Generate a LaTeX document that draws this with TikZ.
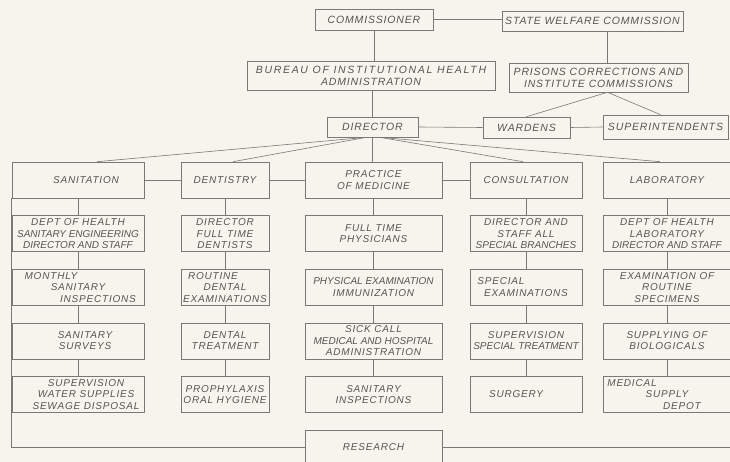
\documentclass[tikz,border=0pt]{standalone}
\usepackage{fontspec}
\newfontfamily\handfont[LetterSpace=8]{Liberation Sans}
\newfontfamily\handtight{Liberation Sans}
\newfontfamily\handwide[LetterSpace=16]{Liberation Sans}
\usetikzlibrary{positioning}
\definecolor{paper}{RGB}{246,244,236}
\definecolor{inkgray}{RGB}{120,120,118}
\definecolor{textgray}{RGB}{85,85,83}

\begin{document}
\begin{tikzpicture}[x=1pt, y=-1pt, color=inkgray, line width=0.6pt, node distance=17pt,
    box/.style={draw=inkgray, text=textgray, align=center, inner xsep=1pt, inner ysep=2pt,
      font=\handfont\itshape\fontsize{10}{11.5}\selectfont},
    head/.style={box, font=\handfont\itshape\fontsize{10.5}{12}\selectfont},
    sancol/.style={box, minimum width=132pt, minimum height=36pt},
    dentcol/.style={box, minimum width=88pt, minimum height=36pt},
    praccol/.style={box, minimum width=137pt, minimum height=36pt},
    conscol/.style={box, minimum width=112pt, minimum height=36pt},
    labcol/.style={box, minimum width=128pt, minimum height=36pt}]
  \useasboundingbox (0,0) rectangle (730,462);
  \fill[paper] (0,0) rectangle (730,462);

  % top of the chart
  \node[head, minimum width=118pt, minimum height=21pt] (comm) at (374,19.5) {COMMISSIONER};
  \node[head, minimum width=181pt, minimum height=20pt] (swc) at (592.5,21) {STATE WELFARE COMMISSION};
  \node[head, minimum width=248pt, minimum height=29pt] (bureau) at (371,76) {{\handwide BUREAU OF INSTITUTIONAL HEALTH}\\ADMINISTRATION};
  \node[head, minimum width=179pt, minimum height=29pt] (prisons) at (598.5,77.5) {PRISONS CORRECTIONS AND\\INSTITUTE COMMISSIONS};
  \node[head, minimum width=91pt, minimum height=20pt] (dir) at (372.5,127) {DIRECTOR};
  \node[head, minimum width=87pt, minimum height=21pt] (wardens) at (526.5,127.5) {WARDENS};
  \node[head, minimum width=125pt, minimum height=24pt] (supt) at (665.5,127) {SUPERINTENDENTS};

  % sanitation
  \node[sancol] (san1) at (78,180) {\hspace*{16pt}SANITATION};
  \node[sancol, below=of san1] (san2) {DEPT OF HEALTH\\{\handtight SANITARY ENGINEERING}\\{\handtight DIRECTOR AND STAFF}};
  \node[sancol, below=of san2] (san3) {MONTHLY\hspace*{54pt}\\SANITARY\hspace*{26pt}\\\hspace*{40pt}INSPECTIONS};
  \node[sancol, below=of san3] (san4) {\hspace*{14pt}SANITARY\\\hspace*{14pt}SURVEYS};
  \node[sancol, below=of san4] (san5) {\hspace*{16pt}SUPERVISION\\\hspace*{16pt}WATER SUPPLIES\\\hspace*{16pt}SEWAGE DISPOSAL};

  % dentistry
  \node[dentcol] (dent1) at (225,180) {DENTISTRY};
  \node[dentcol, below=of dent1] (dent2) {DIRECTOR\\FULL TIME\\DENTISTS};
  \node[dentcol, below=of dent2] (dent3) {ROUTINE\hspace*{24pt}\\DENTAL\\EXAMINATIONS};
  \node[dentcol, below=of dent3] (dent4) {DENTAL\\TREATMENT};
  \node[dentcol, below=of dent4] (dent5) {PROPHYLAXIS\\ORAL HYGIENE};

  % practice of medicine
  \node[praccol] (prac1) at (373.5,180) {PRACTICE\\OF MEDICINE};
  \node[praccol, below=of prac1] (prac2) {FULL TIME\\PHYSICIANS};
  \node[praccol, below=of prac2] (prac3) {{\handtight PHYSICAL EXAMINATION}\\IMMUNIZATION};
  \node[praccol, below=of prac3] (prac4) {SICK CALL\\{\handtight MEDICAL AND HOSPITAL}\\ADMINISTRATION};
  \node[praccol, below=of prac4] (prac5) {SANITARY\\INSPECTIONS};

  % consultation
  \node[conscol] (cons1) at (526,180) {CONSULTATION};
  \node[conscol, below=of cons1] (cons2) {DIRECTOR AND\\STAFF ALL\\{\handtight SPECIAL BRANCHES}};
  \node[conscol, below=of cons2] (cons3) {SPECIAL\hspace*{50pt}\\EXAMINATIONS};
  \node[conscol, below=of cons3] (cons4) {SUPERVISION\\{\handtight SPECIAL TREATMENT}};
  \node[conscol, below=of cons4] (cons5) {SURGERY\hspace*{20pt}};

  % laboratory
  \node[labcol] (lab1) at (667,180) {LABORATORY};
  \node[labcol, below=of lab1] (lab2) {DEPT OF HEALTH\\LABORATORY\\{\handtight DIRECTOR AND STAFF}};
  \node[labcol, below=of lab2] (lab3) {EXAMINATION OF\\ROUTINE\\SPECIMENS};
  \node[labcol, below=of lab3] (lab4) {SUPPLYING OF\\BIOLOGICALS};
  \node[labcol, below=of lab4] (lab5) {MEDICAL\hspace*{70pt}\\SUPPLY\hspace*{42pt}\\\hspace*{30pt}DEPOT};

  \node[box, minimum width=137pt, minimum height=34pt] (res) at (373.5,447) {RESEARCH};
  \coordinate (edge) at (730,447);

  % connectors
  \draw (comm.east) -- (comm.east -| swc.west);
  \draw (comm.south) -- (comm.south |- bureau.north);
  \draw (bureau.south -| dir.north) -- (dir.north);
  \draw ([xshift=15pt]swc.south) -- ([xshift=15pt]swc.south |- prisons.north);
  \draw ([xshift=9pt]prisons.south) -- (wardens.north);
  \draw ([xshift=9pt]prisons.south) -- ([xshift=-5pt]supt.north);
  \draw (dir.east) -- (wardens.west);
  \draw (wardens.east) -- (supt.west);

  \draw ([xshift=-6pt]dir.south) -- ([xshift=19pt]san1.north);
  \draw ([xshift=-6pt]dir.south) -- ([xshift=8pt]dent1.north);
  \draw (dir.south) -- (dir.south |- prac1.north);
  \draw ([xshift=7pt]dir.south) -- ([xshift=-3pt]cons1.north);
  \draw ([xshift=7pt]dir.south) -- ([xshift=-7pt]lab1.north);

  \draw (san1) -- (dent1);
  \draw (dent1) -- (prac1);
  \draw (prac1) -- (cons1);
  \foreach \col in {san,dent,prac,cons,lab}
    \foreach \a/\b in {1/2,2/3,3/4,4/5}
      \draw (\col\a) -- (\col\b);

  \draw (san1.south west) |- (res.west);
  \draw (res.east) -- (edge);
\end{tikzpicture}
\end{document}
